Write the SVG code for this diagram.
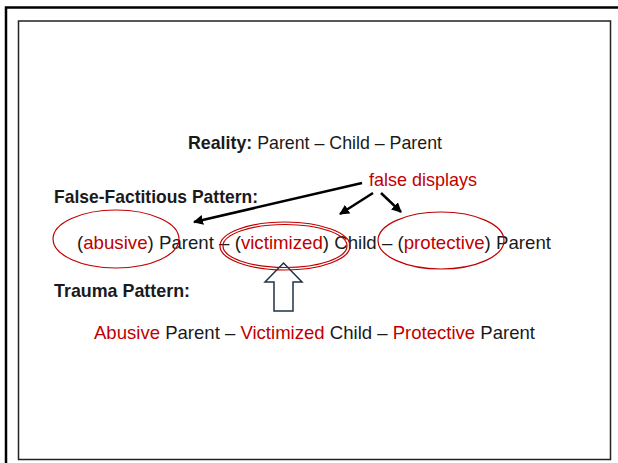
<svg xmlns="http://www.w3.org/2000/svg" width="618" height="463" viewBox="0 0 618 463">
<defs>
<style>
text{font-family:"Liberation Sans",Arial,sans-serif;font-size:19px;fill:#1a1a1a}
.b{font-weight:bold}
.r{fill:#c00000}
.ell{fill:none;stroke:#c00000;stroke-width:1.2}
.con{stroke:#000;stroke-width:2.5;fill:none}
</style>
<marker id="ah" viewBox="0 0 10 10" refX="9" refY="5" markerWidth="4" markerHeight="4" orient="auto" markerUnits="strokeWidth">
<path d="M0,0 L10,5 L0,10 z" fill="#000"/>
</marker>
</defs>
<rect width="618" height="463" fill="#fff"/>
<path d="M6,463 V7.5 H618" fill="none" stroke="#000" stroke-width="2.5"/>
<rect x="18.5" y="21" width="592" height="438.5" fill="#fff" stroke="#222" stroke-width="1.5"/>

<g id="reality"><text x="188" y="149" textLength="254" lengthAdjust="spacingAndGlyphs"><tspan class="b">Reality:</tspan> Parent – Child – Parent</text></g>
<g id="false-displays"><text class="r" x="369" y="186" textLength="108" lengthAdjust="spacingAndGlyphs">false displays</text></g>
<g id="ff-label"><text class="b" x="54" y="203" textLength="204" lengthAdjust="spacingAndGlyphs">False-Factitious Pattern:</text></g>

<g id="up-arrow"><path d="M283.5,263 L302,282 L293,282 L293,311 L274,311 L274,282 L265,282 Z" fill="#fff" stroke="#1f3346" stroke-width="1.5" stroke-linejoin="miter"/></g>

<g id="ff-line"><text x="77" y="249" textLength="474" lengthAdjust="spacingAndGlyphs">(<tspan class="r">abusive</tspan>) Parent – (<tspan class="r">victimized</tspan>) Child – (<tspan class="r">protective</tspan>) Parent</text></g>

<g id="abusive-oval"><ellipse class="ell" cx="116" cy="239" rx="63" ry="29"/></g>
<g id="victimized-oval"><ellipse class="ell" cx="285" cy="246" rx="65" ry="24"/><ellipse class="ell" cx="285" cy="246" rx="62" ry="21.5"/></g>
<g id="protective-oval"><ellipse class="ell" cx="441" cy="240.5" rx="63" ry="28.5"/></g>

<g id="trauma-label"><text class="b" x="54" y="297" textLength="136" lengthAdjust="spacingAndGlyphs">Trauma Pattern:</text></g>
<g id="trauma-line"><text x="94" y="339" textLength="441" lengthAdjust="spacingAndGlyphs"><tspan class="r">Abusive</tspan> Parent – <tspan class="r">Victimized</tspan> Child – <tspan class="r">Protective</tspan> Parent</text></g>

<g id="connectors">
<line class="con" x1="362" y1="183" x2="194" y2="222" marker-end="url(#ah)"/>
<line class="con" x1="373" y1="193" x2="340" y2="214" marker-end="url(#ah)"/>
<line class="con" x1="381" y1="193" x2="401" y2="212" marker-end="url(#ah)"/>
</g>
</svg>
